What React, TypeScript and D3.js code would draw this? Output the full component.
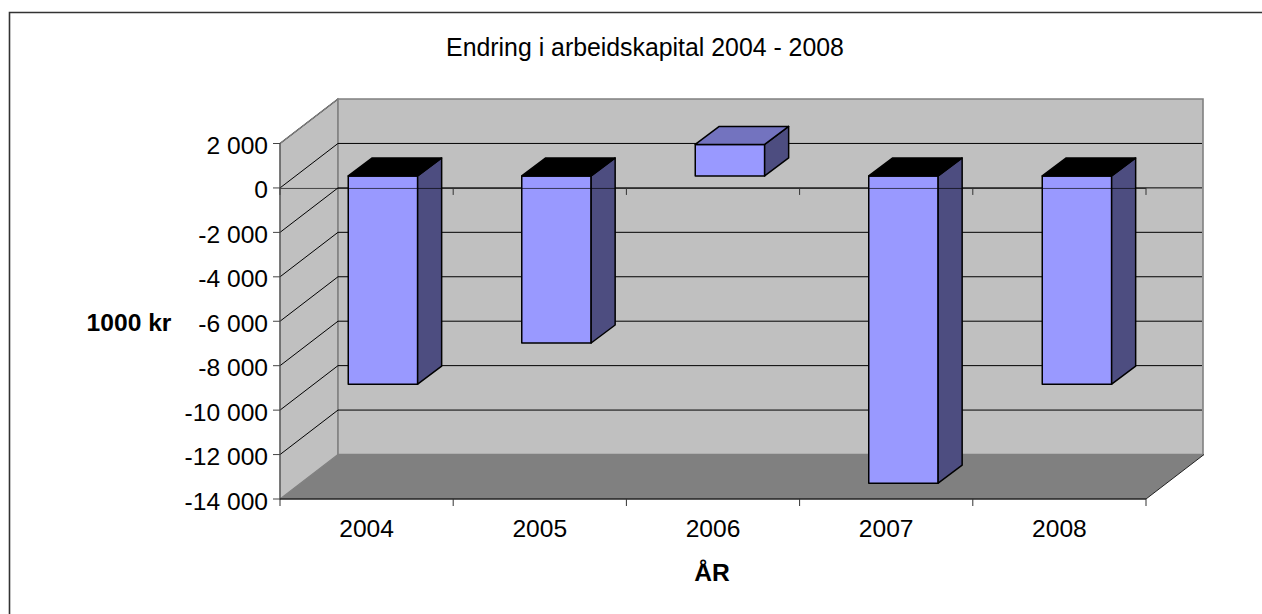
import React from "react";
import * as d3 from "d3";

const years = ["2004", "2005", "2006", "2007", "2008"];
const values = [-9370, -7520, 1420, -13830, -9370];
const yTicks = [2000, 0, -2000, -4000, -6000, -8000, -10000, -12000, -14000];
const yTickLabels = ["2 000", "0", "-2 000", "-4 000", "-6 000", "-8 000", "-10 000", "-12 000", "-14 000"];
const titleText = "Endring i arbeidskapital 2004 - 2008";
const yTitle = "1000 kr";
const xTitle = "ÅR";

const FONT = "'Liberation Sans', Arial, sans-serif";
const FS = 24.6;
const DX = 58, DY = -44.5;
const x = d3.scaleBand<string>().domain(years).range([280, 1146]);
const xBar = d3.scaleBand<string>().domain(years).range([280, 1147.5]);
const y = d3.scaleLinear().domain([-14000, 2000]).range([499, 143.5]);
const pts = (p: number[][]) => p.map((q) => q.join(",")).join(" ");

export default function App() {
  const x0 = 280, x1 = 1146, yT = y(2000), yB = y(-14000);
  const band = x.bandwidth();
  const barW = xBar.bandwidth() * 0.4;
  const bdx = 24, bdy = -18, odx = 16.2, ody = -12;
  return (
    <svg width={1262} height={614} style={{ position: "absolute", left: 0, top: 0, fontFamily: FONT }}>
      <rect x={0} y={0} width={1262} height={614} fill="#fff" />
      <path d="M9.5 640V12.5H1280" fill="none" stroke="#333" strokeWidth={1.6} />
      <text x={645} y={56} textAnchor="middle" fontSize={24.85} fill="#000">{titleText}</text>

      {/* walls */}
      <polygon points={pts([[x0, yT], [x0 + DX, yT + DY], [x0 + DX, yB + DY], [x0, yB]])} fill="#c0c0c0" stroke="#808080" strokeWidth={1.2} />
      <polygon points={pts([[x0 + DX, yT + DY], [x1 + DX - 1, yT + DY], [x1 + DX - 1, yB + DY], [x0 + DX, yB + DY]])} fill="#c0c0c0" stroke="#808080" strokeWidth={1.6} />
      <polygon points={pts([[x0, yB], [x0 + DX, yB + DY], [x1 + DX, yB + DY], [x1, yB]])} fill="#808080" />
      <line x1={x1} y1={yB} x2={x1 + DX} y2={yB + DY} stroke="#222" strokeWidth={1} />

      {/* gridlines */}
      {yTicks.slice(1, -1).concat([2000]).map((t) => (
        <g key={t} stroke="#000" strokeWidth={1}>
          <line x1={x0} y1={y(t)} x2={x0 + DX} y2={y(t) + DY} />
          {t !== 2000 && <line x1={x0 + DX} y1={y(t) + DY} x2={x1 + DX - 2} y2={y(t) + DY} />}
        </g>
      ))}
      <line x1={x0} y1={yT} x2={x0 + DX} y2={yT + DY} stroke="#808080" strokeWidth={1.2} />

      {/* bars */}
      {years.map((yr, i) => {
        const v = values[i];
        const l = xBar(yr)! + xBar.bandwidth() / 2 - barW / 2 + odx;
        const r = l + barW;
        const base = y(0) + ody;
        const val = y(v) + ody;
        const top = Math.min(base, val), bot = Math.max(base, val);
        return (
          <g key={yr} stroke="#000" strokeWidth={1.5} strokeLinejoin="round">
            <rect x={l} y={top} width={barW} height={bot - top} fill="#9999ff" />
            <polygon points={pts([[r, top], [r + bdx, top + bdy], [r + bdx, bot + bdy], [r, bot]])} fill="#4d4d80" />
            <polygon points={pts([[l, top], [l + bdx, top + bdy], [r + bdx, top + bdy], [r, top]])} fill={v < 0 ? "#000" : "#7373bf"} />
          </g>
        );
      })}

      {/* axes */}
      <line x1={x0} y1={y(0) + 0.5} x2={x1} y2={y(0) + 0.5} stroke="#000" strokeOpacity={0.65} strokeWidth={1} />
      {years.map((yr) => (
        <line key={yr} x1={x(yr)! + band} y1={y(0)} x2={x(yr)! + band} y2={y(0) + 7} stroke="#333" strokeWidth={1} />
      ))}
      <line x1={x0} y1={y(0)} x2={x0} y2={y(0) + 7} stroke="#333" strokeWidth={1} />
      <line x1={x0} y1={yT} x2={x0} y2={yB + 7} stroke="#555" strokeWidth={1.2} />
      <line x1={x0} y1={yB} x2={x1} y2={yB} stroke="#222" strokeWidth={1.4} />
      {yTicks.map((t, i) => (
        <g key={t}>
          <line x1={x0 - 7} y1={y(t)} x2={x0} y2={y(t)} stroke="#444" strokeWidth={1} />
          <text x={268} y={y(t) + 10.5} textAnchor="end" fontSize={FS} fill="#000">{yTickLabels[i]}</text>
        </g>
      ))}
      {d3.range(1, 6).map((i) => (
        <line key={i} x1={x0 + i * band} y1={yB} x2={x0 + i * band} y2={yB + 7} stroke="#333" strokeWidth={1} />
      ))}
      {years.map((yr) => (
        <text key={yr} x={x(yr)! + band / 2} y={537} textAnchor="middle" fontSize={FS} fill="#000">{yr}</text>
      ))}
      <text x={129} y={330.5} textAnchor="middle" fontSize={FS} fontWeight={700} fill="#000">{yTitle}</text>
      <text x={712} y={580.5} textAnchor="middle" fontSize={FS} fontWeight={700} fill="#000">{xTitle}</text>
    </svg>
  );
}
